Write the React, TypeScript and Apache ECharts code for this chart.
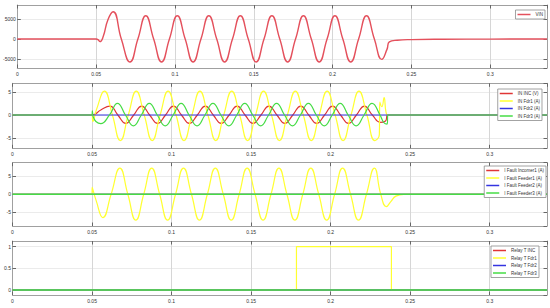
import React, { useEffect, useRef } from 'react';
import * as echarts from 'echarts';

// ---------- data (time in s) ----------
const X_MAX = 0.336;

const vinNames = ['VIN'];
const vinData: number[][] = [
  [0, 0], [0.05, 0], [0.0512, -150], [0.0525, -650], [0.0545, 600], [0.0575, 4800], [0.0608, 6800],
  [0.066, 0], [0.0715, -5750], [0.0765, 0], [0.0815, 5800], [0.0865, 0], [0.0915, -5750], [0.0965, 0],
  [0.1015, 5800], [0.1065, 0], [0.1115, -5750], [0.1165, 0], [0.1215, 5800], [0.1265, 0], [0.1315, -5750],
  [0.1365, 0], [0.1415, 5800], [0.1465, 0], [0.1515, -5750], [0.1565, 0], [0.1615, 5800], [0.1665, 0],
  [0.1715, -5750], [0.1765, 0], [0.1815, 5800], [0.1865, 0], [0.1915, -5750], [0.1965, 0], [0.2015, 5800],
  [0.2065, 0], [0.2115, -5750], [0.2165, 0], [0.2215, 5800], [0.2265, 0], [0.2312, -5100], [0.2345, -2600],
  [0.236, -700], [0.241, -300], [0.25, -150], [0.27, -60], [0.3, -20], [0.336, 0],
];

const inNames = ['IN INC (V)', 'IN Fdr1 (A)', 'IN Fdr2 (A)', 'IN Fdr3 (A)'];
const inIncData: number[][] = [
  [0, 0], [0.05, 0], [0.0555, 1.1], [0.0612, 1.95], [0.0662, 0], [0.0712, -1.85], [0.0762, 0], [0.0812, 1.95],
  [0.0862, 0], [0.0912, -1.85], [0.0962, 0], [0.1012, 1.95], [0.1062, 0], [0.1112, -1.85], [0.1162, 0],
  [0.1212, 1.95], [0.1262, 0], [0.1312, -1.85], [0.1362, 0], [0.1412, 1.95], [0.1462, 0], [0.1512, -1.85],
  [0.1562, 0], [0.1612, 1.95], [0.1662, 0], [0.1712, -1.85], [0.1762, 0], [0.1812, 1.95], [0.1862, 0],
  [0.1912, -1.85], [0.1962, 0], [0.2012, 1.95], [0.2062, 0], [0.2112, -1.85], [0.2162, 0], [0.2212, 1.95],
  [0.2262, 0], [0.2312, -1.6], [0.2345, -1.3], [0.236, 0], [0.336, 0],
];
const inFdr1Data: number[][] = [
  [0, 0], [0.05, 0], [0.0505, -1.4], [0.0528, 1.2], [0.0578, 5.2], [0.0628, 0], [0.0678, -5.6], [0.0728, 0],
  [0.0778, 5.2], [0.0828, 0], [0.0878, -5.6], [0.0928, 0], [0.0978, 5.2], [0.1028, 0], [0.1078, -5.6],
  [0.1128, 0], [0.1178, 5.2], [0.1228, 0], [0.1278, -5.6], [0.1328, 0], [0.1378, 5.2], [0.1428, 0],
  [0.1478, -5.6], [0.1528, 0], [0.1578, 5.2], [0.1628, 0], [0.1678, -5.6], [0.1728, 0], [0.1778, 5.2],
  [0.1828, 0], [0.1878, -5.6], [0.1928, 0], [0.1978, 5.2], [0.2028, 0], [0.2078, -5.6], [0.2128, 0],
  [0.2178, 5.2], [0.2228, 0], [0.2278, -5.6], [0.2306, -4.3], [0.2309, 2.8], [0.2322, 1.8], [0.2336, 3.8],
  [0.2348, 0.6], [0.236, 0], [0.336, 0],
];
const inFdr2Data: number[][] = [[0, 0], [0.336, 0]];
const inFdr3Data: number[][] = [
  [0, 0], [0.05, 0], [0.0502, 0.9], [0.0507, -0.4], [0.0555, -1.9], [0.061, 0], [0.066, 2.55], [0.071, 0],
  [0.076, -2.4], [0.081, 0], [0.086, 2.55], [0.091, 0], [0.096, -2.4], [0.101, 0], [0.106, 2.55], [0.111, 0],
  [0.116, -2.4], [0.121, 0], [0.126, 2.55], [0.131, 0], [0.136, -2.4], [0.141, 0], [0.146, 2.55], [0.151, 0],
  [0.156, -2.4], [0.161, 0], [0.166, 2.55], [0.171, 0], [0.176, -2.4], [0.181, 0], [0.186, 2.55], [0.191, 0],
  [0.196, -2.4], [0.201, 0], [0.206, 2.55], [0.211, 0], [0.216, -2.4], [0.221, 0], [0.226, 2.55], [0.231, 0],
  [0.2335, -1.7], [0.2355, -2.0], [0.236, 0], [0.336, 0],
];

const faultNames = ['I Fault Incomer1 (A)', 'I Fault Feeder1 (A)', 'I Fault Feeder2 (A)', 'I Fault Feeder3 (A)'];
const faultIncData: number[][] = [[0, 0], [0.336, 0]];
const faultFdr1Data: number[][] = [
  [0, 0], [0.05, 0], [0.0501, 1.9], [0.0525, -1.6], [0.0568, -6.4], [0.062, 0], [0.0675, 7.2], [0.0725, 0],
  [0.0775, -7.1], [0.0825, 0], [0.0875, 7.2], [0.0925, 0], [0.0975, -7.1], [0.1025, 0], [0.1075, 7.2],
  [0.1125, 0], [0.1175, -7.1], [0.1225, 0], [0.1275, 7.2], [0.1325, 0], [0.1375, -7.1], [0.1425, 0],
  [0.1475, 7.2], [0.1525, 0], [0.1575, -7.1], [0.1625, 0], [0.1675, 7.2], [0.1725, 0], [0.1775, -7.1],
  [0.1825, 0], [0.1875, 7.2], [0.1925, 0], [0.1975, -7.1], [0.2025, 0], [0.2075, 7.2], [0.2125, 0],
  [0.2175, -7.1], [0.2225, 0], [0.2275, 7.2], [0.2315, 0], [0.235, -3.4], [0.2378, -2.0], [0.241, -0.5],
  [0.246, 0], [0.336, 0],
];
const faultFdr2Data: number[][] = [[0, 0], [0.336, 0]];
const faultFdr3Data: number[][] = [[0, 0], [0.336, 0]];

const relayNames = ['Relay T INC', 'Relay T Fdr1', 'Relay T Fdr2', 'Relay T Fdr3'];
const relayIncData: number[][] = [[0, 0], [0.336, 0]];
const relayFdr1Data: number[][] = [[0, 0], [0.1785, 0], [0.1785, 1], [0.2382, 1], [0.2382, 0], [0.336, 0]];
const relayFdr2Data: number[][] = [[0, 0], [0.336, 0]];
const relayFdr3Data: number[][] = [[0, 0], [0.336, 0]];

const yRanges = [
  [-7250, 8500],
  [-7.29, 6.93],
  [-8.73, 8.7],
  [-0.115, 1.13],
];

// ---------- styling ----------
const FONT = 'Liberation Sans, Arial, sans-serif';
const RED_VIN = '#e4505c';
const RED = '#e03636';
const YELLOW = '#ffff30';
const BLUE = '#3434e0';
const GREEN = '#46dc46';

const grids = [
  { left: 12.5, right: 3, top: 5, height: 63 },
  { left: 12.5, right: 3, top: 83.3, height: 65 },
  { left: 12.5, right: 3, top: 162.7, height: 63.3 },
  { left: 12.5, right: 3, top: 241, height: 54 },
];

const legendPos = [
  { right: 5, top: 10 },
  { right: 8, top: 89 },
  { right: 4, top: 166 },
  { right: 11, top: 246 },
];

function buildOption() {
  const xAxis: any[] = [];
  const yAxis: any[] = [];
  grids.forEach((_, i) => {
    const lineCol = '#a0a0a0';
    xAxis.push({
      type: 'value', gridIndex: i, min: 0, max: X_MAX, interval: 0.05,
      axisLine: { show: true, onZero: false, lineStyle: { color: lineCol, width: 1 } },
      axisTick: { show: true, inside: true, length: 3.5, lineStyle: { color: '#666' } },
      axisLabel: {
        show: true, fontSize: 5, color: '#333', fontFamily: FONT, margin: 3, showMaxLabel: false,
        formatter: (v: number) => String(+v.toFixed(3)),
      },
      splitLine: { show: true, lineStyle: { color: '#d6d6d6', width: 1 } },
    });
    xAxis.push({
      type: 'value', gridIndex: i, position: 'top', min: 0, max: X_MAX, interval: 0.05,
      axisLine: { show: true, onZero: false, lineStyle: { color: lineCol, width: 1 } },
      axisTick: { show: true, inside: true, length: 3.5, lineStyle: { color: '#666' } },
      axisLabel: { show: false },
      splitLine: { show: false },
    });
    const [mn, mx] = yRanges[i];
    yAxis.push({
      type: 'value', gridIndex: i, min: mn, max: mx, splitNumber: 3,
      axisLine: { show: true, onZero: false, lineStyle: { color: lineCol, width: 1 } },
      axisTick: { show: true, inside: true, length: 3.5, lineStyle: { color: '#666' } },
      axisLabel: {
        show: true, fontSize: 5, color: '#333', fontFamily: FONT, margin: 1.5,
        showMinLabel: false, showMaxLabel: false,
        formatter: (v: number) => String(+v.toFixed(3)),
      },
      splitLine: { show: true, lineStyle: { color: '#ebebeb', width: 1 } },
    });
    yAxis.push({
      type: 'value', gridIndex: i, position: 'right', min: mn, max: mx, splitNumber: 3,
      axisLine: { show: true, onZero: false, lineStyle: { color: lineCol, width: 1 } },
      axisTick: { show: true, inside: true, length: 3.5, lineStyle: { color: '#666' } },
      axisLabel: { show: false },
      splitLine: { show: false },
    });
  });

  const mk = (panel: number, name: string, data: number[][], color: string, smooth: number | boolean, width = 1.2) => ({
    type: 'line', name, data, xAxisIndex: panel * 2, yAxisIndex: panel * 2,
    symbol: 'none', showSymbol: false, smooth, silent: true,
    lineStyle: { color, width }, itemStyle: { color },
    emphasis: { disabled: true },
  });

  const series = [
    mk(0, vinNames[0], vinData, RED_VIN, 0.5, 1.4),
    mk(1, inNames[0], inIncData, RED, 0.5),
    mk(1, inNames[1], inFdr1Data, YELLOW, 0.5),
    mk(1, inNames[2], inFdr2Data, BLUE, false),
    mk(1, inNames[3], inFdr3Data, GREEN, 0.5),
    mk(2, faultNames[0], faultIncData, RED, false),
    mk(2, faultNames[1], faultFdr1Data, YELLOW, 0.5),
    mk(2, faultNames[2], faultFdr2Data, BLUE, false),
    mk(2, faultNames[3], faultFdr3Data, GREEN, false, 1.4),
    mk(3, relayNames[0], relayIncData, RED, false),
    mk(3, relayNames[1], relayFdr1Data, YELLOW, false),
    mk(3, relayNames[2], relayFdr2Data, BLUE, false),
    mk(3, relayNames[3], relayFdr3Data, GREEN, false, 1.4),
  ];

  const legendSets = [vinNames, inNames, faultNames, relayNames];
  const legend = legendSets.map((names, i) => ({
    data: names, orient: 'vertical', ...legendPos[i],
    icon: 'rect', itemWidth: 13, itemHeight: 1.5, itemGap: 1.5,
    padding: [1.5, 2, 1.5, 2],
    borderColor: '#8c8c8c', borderWidth: 0.8, backgroundColor: '#ffffff',
    selectedMode: false,
    textStyle: { fontSize: 4.5, color: '#333', fontFamily: FONT, lineHeight: 6 },
  }));

  return {
    animation: false,
    backgroundColor: '#ffffff',
    textStyle: { fontFamily: FONT },
    grid: grids,
    xAxis,
    yAxis,
    legend,
    series,
  };
}

export default function App() {
  const ref = useRef<HTMLDivElement>(null);
  useEffect(() => {
    if (!ref.current) return;
    const chart = echarts.init(ref.current, null, { renderer: 'svg' });
    chart.setOption(buildOption() as any);
    return () => chart.dispose();
  }, []);
  return (
    <div
      ref={ref}
      style={{ position: 'fixed', left: 0, top: 0, width: 550, height: 308, background: '#fff' }}
    />
  );
}
